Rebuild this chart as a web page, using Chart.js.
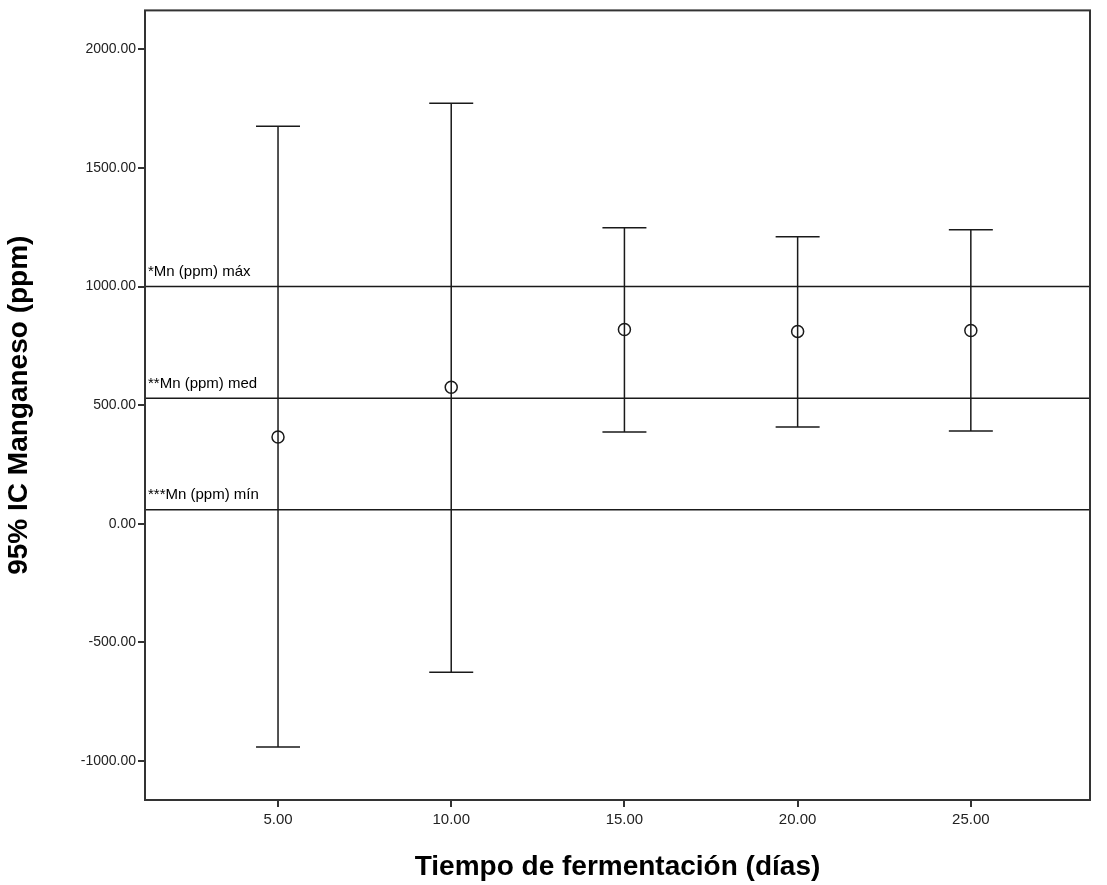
<!DOCTYPE html>
<html>
<head>
<meta charset="utf-8">
<script src="https://cdn.jsdelivr.net/npm/chart.js@4/dist/chart.umd.min.js"></script>
<style>
  html, body { margin: 0; padding: 0; background: #fff; }
  canvas { display: block; }
</style>
</head>
<body>
<canvas id="grafico" width="1107" height="885"></canvas>
<script>
// Datos (IC 95% de manganeso por día)
const dias = [5, 10, 15, 20, 25];
const medias = [366, 576, 819, 811, 815];
const limInf = [-941, -626, 387, 408, 391];
const limSup = [1676, 1773, 1248, 1210, 1240];

// Líneas de referencia
const refEtiquetas = ['*Mn (ppm) máx', '**Mn (ppm) med', '***Mn (ppm) mín'];
const refValores = [1000, 529, 59];

const ticksY = [-1000, -500, 0, 500, 1000, 1500, 2000];
const ticksX = [5, 10, 15, 20, 25];

const xMin = 1.16, xMax = 28.44;
const yMin = -1164, yMax = 2164;

// Plugin: marco, barras de error y etiquetas de las líneas de referencia
const barrasError = {
    id: 'barrasError',
    beforeDatasetsDraw(chart) {
        const ctx = chart.ctx;
        const x = chart.scales.x, y = chart.scales.y;
        ctx.save();
        ctx.strokeStyle = '#1a1a1a';
        ctx.lineWidth = 1.5;
        dias.forEach((d, i) => {
            const px = x.getPixelForValue(d);
            const pTop = y.getPixelForValue(limSup[i]);
            const pBot = y.getPixelForValue(limInf[i]);
            ctx.beginPath();
            ctx.moveTo(px, pTop); ctx.lineTo(px, pBot);
            ctx.moveTo(px - 22, pTop); ctx.lineTo(px + 22, pTop);
            ctx.moveTo(px - 22, pBot); ctx.lineTo(px + 22, pBot);
            ctx.stroke();
        });
        // etiquetas de referencia
        ctx.fillStyle = '#000';
        ctx.font = '15px "Liberation Sans", Arial, sans-serif';
        ctx.textBaseline = 'bottom';
        ctx.textAlign = 'left';
        refValores.forEach((v, i) => {
            ctx.fillText(refEtiquetas[i], chart.chartArea.left + 3, y.getPixelForValue(v) - 7);
        });
        ctx.restore();
    },
    afterDraw(chart) {
        const a = chart.chartArea;
        const ctx = chart.ctx;
        ctx.save();
        ctx.strokeStyle = '#333';
        ctx.lineWidth = 2;
        ctx.strokeRect(a.left, a.top, a.right - a.left, a.bottom - a.top);
        ctx.restore();
    }
};

const datasetsRef = refValores.map(v => ({
    type: 'line',
    data: [{ x: xMin, y: v }, { x: xMax, y: v }],
    borderColor: '#1a1a1a',
    borderWidth: 1.5,
    pointRadius: 0,
    fill: false
}));

new Chart(document.getElementById('grafico').getContext('2d'), {
    type: 'scatter',
    data: {
        datasets: [
            ...datasetsRef,
            {
                type: 'scatter',
                data: dias.map((d, i) => ({ x: d, y: medias[i] })),
                pointStyle: 'circle',
                pointRadius: 6,
                borderColor: '#1a1a1a',
                borderWidth: 1.5,
                backgroundColor: 'rgba(0,0,0,0)'
            }
        ]
    },
    options: {
        responsive: false,
        animation: false,
        layout: { padding: { top: 5, right: 17, left: 0, bottom: 0 } },
        plugins: { legend: { display: false }, tooltip: { enabled: false } },
        scales: {
            x: {
                type: 'linear',
                min: xMin,
                max: xMax,
                afterBuildTicks: s => { s.ticks = ticksX.map(v => ({ value: v })); },
                afterFit: s => { s.height = 85; },
                grid: { drawOnChartArea: false, tickLength: 7, color: '#333', lineWidth: 2 },
                border: { display: false },
                ticks: {
                    color: '#222',
                    font: { family: '"Liberation Sans", Arial', size: 15 },
                    padding: 4,
                    maxRotation: 0,
                    callback: v => Number(v).toFixed(2)
                },
                title: {
                    display: true,
                    text: 'Tiempo de fermentación (días)',
                    color: '#000',
                    font: { family: '"Liberation Sans", Arial', size: 28, weight: 'bold' },
                    padding: { top: 0, bottom: 1 }
                }
            },
            y: {
                type: 'linear',
                min: yMin,
                max: yMax,
                afterBuildTicks: s => { s.ticks = ticksY.map(v => ({ value: v })); },
                afterFit: s => { s.width = 145; },
                grid: { drawOnChartArea: false, tickLength: 7, color: '#333', lineWidth: 2 },
                border: { display: false },
                ticks: {
                    color: '#222',
                    font: { family: '"Liberation Sans", Arial', size: 14 },
                    padding: 2,
                    callback: v => Number(v).toFixed(2)
                },
                title: {
                    display: true,
                    text: '95% IC Manganeso (ppm)',
                    color: '#000',
                    font: { family: '"Liberation Sans", Arial', size: 28, weight: 'bold' },
                    padding: { top: 2, bottom: 0 }
                }
            }
        }
    },
    plugins: [barrasError]
});
</script>
</body>
</html>
